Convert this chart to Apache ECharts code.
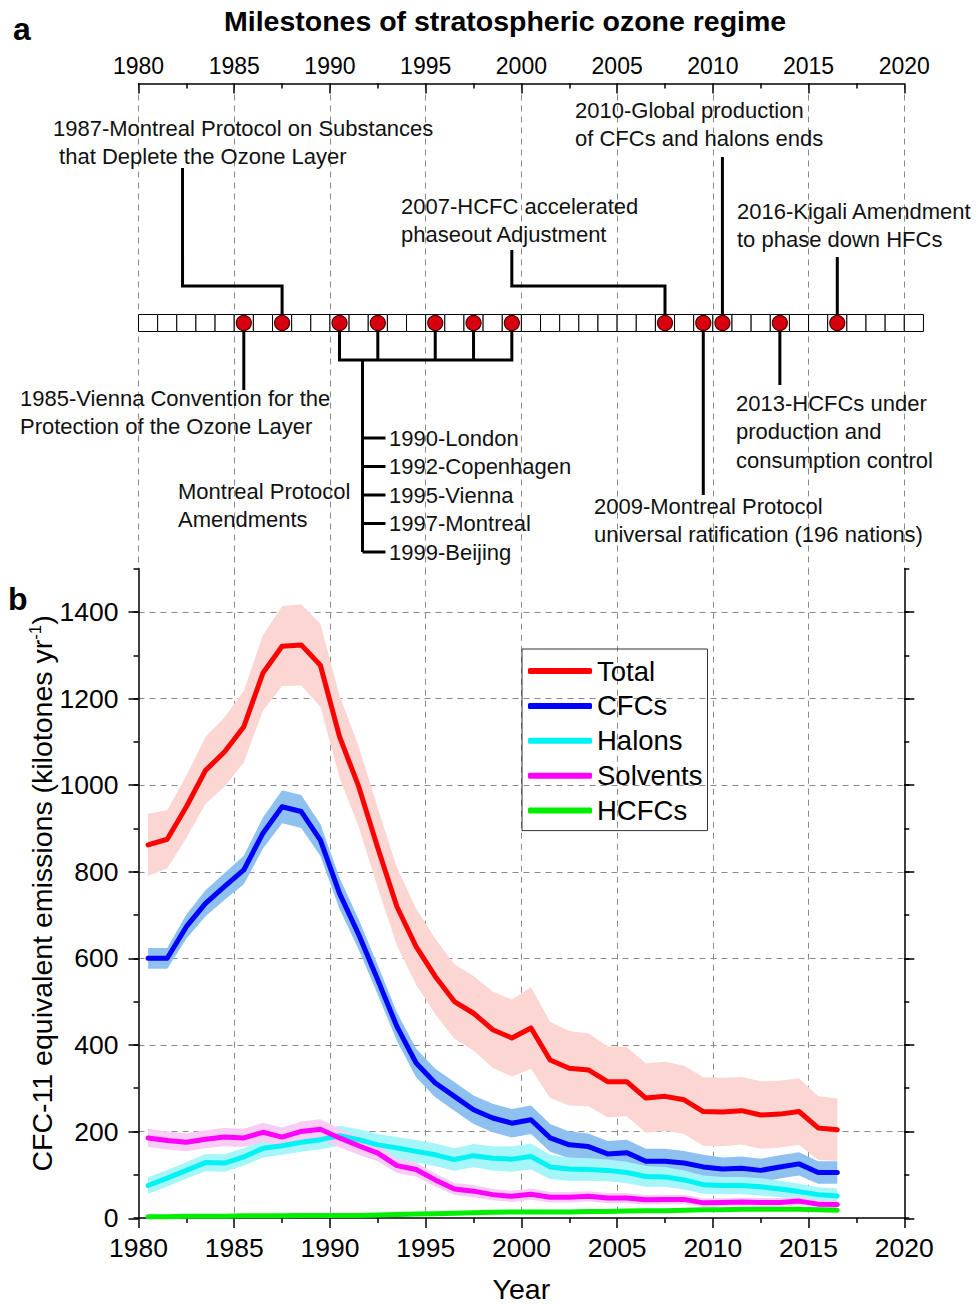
<!DOCTYPE html>
<html>
<head>
<meta charset="utf-8">
<title>Stratospheric ozone milestones and emissions</title>
<script src="https://cdn.jsdelivr.net/npm/echarts@6/dist/echarts.min.js"></script>
<style>
html, body { margin: 0; padding: 0; background: #fff; }
#chart { width: 979px; height: 1304px; }
</style>
</head>
<body>
<div id="chart"></div>
<script>
// ---- data (panel b): mid-year points, CFC-11 equivalent kilotonnes per year
var years = [1980.5, 1981.5, 1982.5, 1983.5, 1984.5, 1985.5, 1986.5, 1987.5, 1988.5, 1989.5,
	1990.5, 1991.5, 1992.5, 1993.5, 1994.5, 1995.5, 1996.5, 1997.5, 1998.5, 1999.5,
	2000.5, 2001.5, 2002.5, 2003.5, 2004.5, 2005.5, 2006.5, 2007.5, 2008.5, 2009.5,
	2010.5, 2011.5, 2012.5, 2013.5, 2014.5, 2015.5, 2016.5];

var total = [862, 875, 950, 1034, 1077, 1135, 1259, 1321, 1324, 1277,
	1112, 997, 855, 719, 627, 558, 500, 473, 435, 416,
	439, 365, 346, 342, 315, 315, 277, 281, 273, 246,
	245, 248, 238, 240, 246, 208, 204];
var totalErr = [72, 67, 72, 77, 80, 83, 87, 92, 94, 96,
	95, 93, 92, 90, 88, 87, 86, 86, 88, 89,
	94, 88, 86, 84, 82, 80, 80, 80, 79, 79,
	79, 78, 78, 77, 77, 74, 72];

var cfcs = [600, 600, 673, 727, 766, 804, 889, 950, 939, 873,
	750, 655, 550, 442, 358, 312, 281, 250, 231, 219,
	227, 185, 169, 165, 148, 151, 131, 131, 127, 118,
	113, 115, 110, 118, 125, 105, 105];
var cfcsErr = [24, 24, 28, 30, 31, 33, 36, 38, 38, 37,
	36, 35, 34, 33, 33, 33, 33, 33, 33, 33,
	33, 32, 31, 30, 30, 30, 29, 29, 28, 28,
	27, 27, 27, 27, 27, 26, 26];

var halons = [75, 92, 110, 128, 127, 141, 161, 167, 175, 181,
	190, 181, 169, 162, 154, 146, 135, 144, 138, 136,
	142, 118, 113, 112, 110, 105, 96, 95, 88, 77,
	75, 75, 72, 67, 61, 54, 51];
var halonsErr = [19, 19, 19, 20, 20, 20, 21, 21, 22, 22,
	23, 24, 25, 25, 26, 26, 26, 27, 28, 29,
	30, 28, 27, 26, 25, 25, 24, 23, 22, 21,
	20, 20, 20, 19, 18, 17, 17];

var solvents = [185, 179, 175, 182, 187, 185, 198, 187, 200, 205,
	185, 167, 150, 121, 112, 88, 67, 62, 54, 50,
	55, 48, 48, 50, 46, 46, 42, 43, 43, 35,
	36, 37, 36, 36, 39, 32, 31];
var solventsErr = [21, 21, 21, 21, 21, 21, 22, 22, 23, 23,
	22, 21, 19, 17, 16, 15, 14, 14, 13, 13,
	13, 12, 12, 12, 12, 12, 11, 11, 11, 10,
	10, 10, 10, 10, 10, 9, 9];

var hcfcs = [3, 3, 4, 4, 4, 5, 5, 5, 6, 6,
	6, 6, 7, 8, 9, 10, 11, 12, 13, 14,
	14, 14, 14, 15, 15, 16, 17, 17, 18, 19,
	19, 20, 20, 20, 20, 19, 18];
var hcfcsErr = [2, 2, 2, 2, 2, 2, 2, 2, 2, 2,
	2, 2, 2, 2, 2, 2, 2, 2, 2, 2,
	3, 3, 3, 3, 3, 3, 3, 3, 3, 3,
	3, 3, 3, 3, 3, 3, 3];

// ---- data (panel a): timeline cells and milestone years
var boxYears = [1980, 1981, 1982, 1983, 1984, 1985, 1986, 1987, 1988, 1989,
	1990, 1991, 1992, 1993, 1994, 1995, 1996, 1997, 1998, 1999,
	2000, 2001, 2002, 2003, 2004, 2005, 2006, 2007, 2008, 2009,
	2010, 2011, 2012, 2013, 2014, 2015, 2016, 2017, 2018, 2019, 2020];
var milestoneYears = [1985, 1987, 1990, 1992, 1995, 1997, 1999, 2007, 2009, 2010, 2013, 2016];
var amendments = ['1990-London', '1992-Copenhagen', '1995-Vienna', '1997-Montreal', '1999-Beijing'];

// axis ranges
var yearMin = 1980, yearMax = 2020, yearStep = 5;
var emisMax = 1500, emisLabelMax = 1400, emisStep = 200;

var FONT = '"Liberation Sans", Arial, Helvetica, sans-serif';
var ROW_Y = 323; // panel a uses page pixel rows as its hidden y scale

var gases = [
	{ name: 'Total', v: total, e: totalErr, line: '#ff0000', band: '#fbd6d3' },
	{ name: 'CFCs', v: cfcs, e: cfcsErr, line: '#0000ff', band: '#8ec1f0' },
	{ name: 'Halons', v: halons, e: halonsErr, line: '#00f2f2', band: '#a6f5f8' },
	{ name: 'Solvents', v: solvents, e: solventsErr, line: '#ff00ff', band: '#f8cdf5' },
	{ name: 'HCFCs', v: hcfcs, e: hcfcsErr, line: '#00ee00', band: '#a4f0a4' }
];

// leader lines of panel a: [year, pixel row]
var connectors = [
	[[1987.5, ROW_Y], [1987.5, 286], [1982.3, 286], [1982.3, 168]],
	[[2007.5, ROW_Y], [2007.5, 286], [1999.5, 286], [1999.5, 250]],
	[[2010.5, ROW_Y], [2010.5, 157]],
	[[2016.5, ROW_Y], [2016.5, 257]],
	[[1985.5, ROW_Y], [1985.5, 390]],
	[[2013.5, ROW_Y], [2013.5, 385]],
	[[2009.5, ROW_Y], [2009.5, 495]],
	[[1990.5, ROW_Y], [1990.5, 360], [1999.5, 360], [1999.5, ROW_Y]],
	[[1992.5, ROW_Y], [1992.5, 360]],
	[[1995.5, ROW_Y], [1995.5, 360]],
	[[1997.5, ROW_Y], [1997.5, 360]],
	[[1991.7, 360], [1991.7, 552]]
];
var amendRows = [438, 466.5, 495, 523.5, 552];
amendRows.forEach(function(r) {
	connectors.push([[1991.7, r], [1992.9, r]]);
});

var notes = [
	{ x: 53, y: 114, t: '1987-Montreal Protocol on Substances\n that Deplete the Ozone Layer' },
	{ x: 575, y: 96, t: '2010-Global production\nof CFCs and halons ends' },
	{ x: 401, y: 192, t: '2007-HCFC accelerated\nphaseout Adjustment' },
	{ x: 737, y: 197, t: '2016-Kigali Amendment\nto phase down HFCs' },
	{ x: 20, y: 384, t: '1985-Vienna Convention for the\nProtection of the Ozone Layer' },
	{ x: 736, y: 389, t: '2013-HCFCs under\nproduction and\nconsumption control' },
	{ x: 178, y: 477, t: 'Montreal Protocol\nAmendments' },
	{ x: 389, y: 424, t: amendments.join('\n'), lh: 28.5 },
	{ x: 594, y: 492, t: '2009-Montreal Protocol\nuniversal ratification (196 nations)' }
];

var chart = echarts.init(document.getElementById('chart'), null, { renderer: 'svg' });

var series = [];
gases.forEach(function(g) {
	// uncertainty range: one polygon through upper then lower edge
	series.push({
		name: g.name + ' range', type: 'custom', xAxisIndex: 1, yAxisIndex: 1,
		silent: true, clip: true,
		data: [[years[0], g.v[0]]],
		renderItem: function(params, api) {
			var pts = [];
			for (var i = 0; i < years.length; i++) {
				pts.push(api.coord([years[i], g.v[i] + g.e[i]]));
			}
			for (var j = years.length - 1; j >= 0; j--) {
				pts.push(api.coord([years[j], g.v[j] - g.e[j]]));
			}
			return { type: 'polygon', shape: { points: pts }, style: { fill: g.band } };
		}
	});
	series.push({
		name: g.name, type: 'line', xAxisIndex: 1, yAxisIndex: 1,
		symbol: 'none', color: g.line,
		lineStyle: { width: 5, color: g.line, cap: 'round', join: 'round' },
		data: years.map(function(y, i) { return [y, g.v[i]]; })
	});
});

// panel a: year cells
series.push({
	type: 'custom', xAxisIndex: 0, yAxisIndex: 0, silent: true, z: 3,
	data: boxYears.map(function(y) { return [y, ROW_Y]; }),
	renderItem: function(params, api) {
		var a = api.coord([api.value(0), 314.5]);
		var b = api.coord([api.value(0) + 1, 331.5]);
		return {
			type: 'rect',
			shape: { x: a[0], y: a[1], width: b[0] - a[0], height: b[1] - a[1] },
			style: { fill: '#fff', stroke: '#000', lineWidth: 1 }
		};
	}
});
series.push({
	type: 'lines', coordinateSystem: 'cartesian2d', xAxisIndex: 0, yAxisIndex: 0,
	polyline: true, silent: true, z: 4,
	lineStyle: { color: '#000', width: 3, opacity: 1 },
	data: connectors.map(function(c) { return { coords: c }; })
});
series.push({
	type: 'scatter', xAxisIndex: 0, yAxisIndex: 0, silent: true, z: 5,
	symbol: 'circle', symbolSize: 15,
	itemStyle: { color: '#d8000f', borderColor: '#4a0000', borderWidth: 1.2, opacity: 1 },
	data: milestoneYears.map(function(y) { return [y + 0.5, ROW_Y]; })
});

var dashGray = { color: '#8a8a8a', type: [6, 5], width: 1 };
var blackLine = { color: '#000', width: 1.5 };
var numFmt = function(v) { return String(v); };
var clear = 'rgba(0,0,0,0)';

var option = {
	animation: false,
	backgroundColor: '#fff',
	textStyle: { fontFamily: FONT, color: '#000' },
	grid: [
		{ left: 138.5, right: 74.7, top: 83.5, bottom: 735.3 },
		{ left: 138.5, right: 74.7, top: 568.7, bottom: 85.7 },
		{ left: 138.5, right: 74.7, top: 611.9, bottom: 85.7 }
	],
	legend: {
		data: gases.map(function(g) { return g.name; }),
		orient: 'vertical', left: 522, top: 649,
		icon: 'roundRect', itemWidth: 64, itemHeight: 6, itemGap: 6.9,
		padding: [8, 5, 6, 6],
		borderColor: '#333', borderWidth: 1, borderRadius: 0,
		selectedMode: false,
		textStyle: { fontSize: 27.5, fontFamily: FONT, color: '#000' }
	},
	xAxis: [
		{
			gridIndex: 0, type: 'value', position: 'top',
			min: yearMin, max: yearMax, interval: yearStep,
			axisLine: { lineStyle: blackLine },
			axisTick: { inside: true, length: 10, lineStyle: blackLine },
			minorTick: { show: true, splitNumber: 2, length: 5, lineStyle: blackLine },
			axisLabel: { fontSize: 23, color: '#000', margin: 6, fontFamily: FONT, formatter: numFmt },
			splitLine: { show: true, lineStyle: dashGray }
		},
		{
			gridIndex: 1, type: 'value', position: 'bottom',
			min: yearMin, max: yearMax, interval: yearStep,
			axisLine: { onZero: false, lineStyle: blackLine },
			axisTick: { inside: false, length: 10, lineStyle: blackLine },
			minorTick: { show: true, splitNumber: 2, length: 5, lineStyle: blackLine },
			axisLabel: { fontSize: 26.5, color: '#000', margin: 16, fontFamily: FONT, formatter: numFmt },
			splitLine: { show: true, lineStyle: { color: [clear, '#8a8a8a', '#8a8a8a', '#8a8a8a', '#8a8a8a', '#8a8a8a', '#8a8a8a', '#8a8a8a', clear], type: [6, 5], width: 1 } },
			name: 'Year', nameLocation: 'middle', nameGap: 56,
			nameTextStyle: { fontSize: 28.5, color: '#000', fontFamily: FONT }
		},
		{ gridIndex: 2, type: 'value', show: false, min: yearMin, max: yearMax }
	],
	yAxis: [
		{ gridIndex: 0, type: 'value', show: false, inverse: true, min: 83.5, max: 568.7 },
		{
			gridIndex: 1, type: 'value', position: 'left',
			min: 0, max: emisMax, interval: 100,
			axisLine: { show: true, lineStyle: blackLine },
			axisTick: { inside: false, length: 5, lineStyle: blackLine },
			axisLabel: { show: false },
			splitLine: { show: false },
			name: 'CFC-11 equivalent emissions (kilotones yr{sup|-1})',
			nameLocation: 'middle', nameGap: 81, nameRotate: 90,
			nameTextStyle: {
				fontSize: 28.5, color: '#000', fontFamily: FONT,
				rich: { sup: { fontSize: 17, verticalAlign: 'top', padding: [0, 0, 14, 0], fontFamily: FONT, color: '#000' } }
			}
		},
		{
			gridIndex: 1, type: 'value', position: 'right',
			min: 0, max: emisMax, interval: 100,
			axisLine: { show: true, lineStyle: blackLine },
			axisTick: { inside: false, length: 5, lineStyle: blackLine },
			axisLabel: { show: false },
			splitLine: { show: false }
		},
		{
			gridIndex: 2, type: 'value', position: 'left',
			min: 0, max: emisLabelMax, interval: emisStep,
			axisLine: { show: false },
			axisTick: { show: true, inside: false, length: 10, lineStyle: blackLine },
			axisLabel: { fontSize: 26.5, color: '#000', margin: 20, fontFamily: FONT, formatter: numFmt },
			splitLine: { show: true, lineStyle: { color: [clear, '#8a8a8a', '#8a8a8a', '#8a8a8a', '#8a8a8a', '#8a8a8a', '#8a8a8a', '#8a8a8a'], type: [6, 5], width: 1 } }
		},
		{
			gridIndex: 2, type: 'value', position: 'right',
			min: 0, max: emisLabelMax, interval: emisStep,
			axisLine: { show: false },
			axisTick: { show: true, inside: false, length: 10, lineStyle: blackLine },
			axisLabel: { show: false },
			splitLine: { show: false }
		}
	],
	graphic: [
		{ type: 'text', left: 224, top: 6, silent: true,
			style: { text: 'Milestones of stratospheric ozone regime', fontSize: 28.5, fontWeight: 'bold', fontFamily: FONT, fill: '#000' } },
		{ type: 'text', left: 13, top: 13, silent: true,
			style: { text: 'a', fontSize: 32, fontWeight: 'bold', fontFamily: FONT, fill: '#000' } },
		{ type: 'text', left: 8, top: 583, silent: true,
			style: { text: 'b', fontSize: 32, fontWeight: 'bold', fontFamily: FONT, fill: '#000' } }
	].concat(notes.map(function(n) {
		return {
			type: 'text', left: n.x, top: n.y, silent: true, z: 10,
			style: { text: n.t, fontSize: 22, lineHeight: n.lh || 28.5, fontFamily: FONT, fill: '#111' }
		};
	})),
	series: series
};

chart.setOption(option);
</script>
</body>
</html>
